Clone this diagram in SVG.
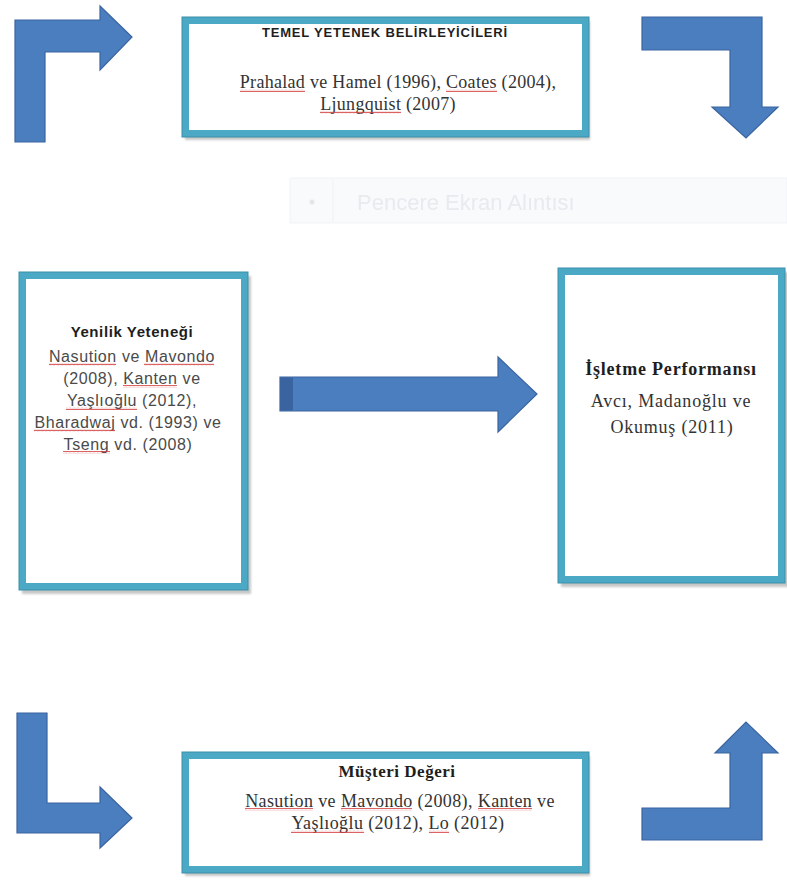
<svg xmlns="http://www.w3.org/2000/svg" width="787" height="882" viewBox="0 0 787 882">
  <defs>
    <style>
      .box { fill: #ffffff; stroke: #4BA9C6; stroke-width: 7; }
      .edge { fill: none; stroke: #3C8FA8; stroke-width: 1; }
      .shadow { fill: #9a9a9a; opacity: 0.55; }
      .arrow { fill: #4A7EBF; stroke: #3A64A0; stroke-width: 1.2; stroke-linejoin: miter; }
      .band { fill: #3A64A0; }
      .sans-title { font-family: "Liberation Sans", Arial, sans-serif; font-weight: bold; fill: #1e1e1e; text-anchor: middle; }
      .sans-body { font-family: "Liberation Sans", Arial, sans-serif; fill: #4a4a4a; text-anchor: middle; }
      .serif-title { font-family: "Liberation Serif", "Times New Roman", serif; font-weight: bold; fill: #1e1e1e; text-anchor: middle; }
      .serif-body { font-family: "Liberation Serif", "Times New Roman", serif; fill: #333333; text-anchor: middle; }
      .ghost { font-family: "Liberation Sans", Arial, sans-serif; fill: #e6e9ed; }
      .squig { fill: url(#squiggle); }
    </style>
    <filter id="soft" x="-5%" y="-5%" width="110%" height="110%">
      <feGaussianBlur stdDeviation="1.2"/>
    </filter>
    <pattern id="squiggle" width="4" height="3" patternUnits="userSpaceOnUse">
      <path d="M0,2.2 L1,0.8 L2,2.2 L3,0.8 L4,2.2" fill="none" stroke="#d23a3a" stroke-width="0.8"/>
    </pattern>
  </defs>

  <rect width="787" height="882" fill="#ffffff"/>

  <!-- faint pasted toolbar strip -->
  <g id="ghost-strip" opacity="0.9">
    <rect x="290" y="178" width="497" height="45" fill="#f8fafc" stroke="#eff2f6" stroke-width="1"/>
    <line x1="333" y1="179" x2="333" y2="222" stroke="#eef1f5" stroke-width="1"/>
    <circle cx="312" cy="202" r="2.5" fill="#e2e4e8"/>
    <text class="ghost" x="357" y="210" font-size="22">Pencere Ekran Alıntısı</text>
  </g>

  <!-- block arrows linking the boxes -->
  <g id="connectors">
    <path class="arrow" d="M15,142 L15,20 L100,20 L100,6 L132,37 L100,70 L100,52 L45,52 L45,142 Z"/>
    <path class="arrow" d="M642,17 L762,17 L762,107 L778,107 L746,138 L712,107 L730,107 L730,50 L642,50 Z"/>
    <path class="arrow" d="M280,377 L498,377 L498,357 L537,394 L498,432 L498,411 L280,411 Z"/>
    <rect class="band" x="280" y="377.5" width="13" height="33"/>
    <path class="arrow" d="M17,713 L47,713 L47,803 L100,803 L100,787 L132,818 L100,848 L100,833 L17,833 Z"/>
    <path class="arrow" d="M642,808 L730,808 L730,753 L715,753 L746,722 L778,753 L762,753 L762,840 L642,840 Z"/>
  </g>

  <!-- top: core capability determinants -->
  <g id="node-temel">
    <rect class="shadow" x="185" y="21" width="405" height="119" filter="url(#soft)"/>
    <rect class="box" x="185.5" y="20.5" width="400" height="113"/>
    <rect class="edge" x="182" y="17" width="407" height="120"/>
    <text class="sans-title" x="385" y="37" font-size="13" letter-spacing="0.8">TEMEL YETENEK BELİRLEYİCİLERİ</text>
    <text class="serif-body" x="398" y="88" font-size="18" letter-spacing="0.3">Prahalad ve Hamel (1996), Coates (2004),</text>
    <text class="serif-body" x="388" y="110" font-size="18" letter-spacing="0.3">Ljungquist (2007)</text>
    <rect class="squig" x="240" y="89" width="65" height="3"/>
    <rect class="squig" x="446" y="89" width="51" height="3"/>
    <rect class="squig" x="320" y="111" width="81" height="3"/>
  </g>

  <!-- left: innovation capability -->
  <g id="node-yenilik">
    <rect class="shadow" x="22" y="276" width="229" height="318" filter="url(#soft)"/>
    <rect class="box" x="22.5" y="275.5" width="222" height="311"/>
    <rect class="edge" x="19" y="272" width="229" height="318"/>
    <text class="sans-title" x="132" y="337" font-size="15" letter-spacing="0.6">Yenilik Yeteneği</text>
    <text class="sans-body" x="132" y="362" font-size="16" letter-spacing="0.6">Nasution ve Mavondo</text>
    <text class="sans-body" x="132" y="384" font-size="16" letter-spacing="0.6">(2008), Kanten ve</text>
    <text class="sans-body" x="132" y="406" font-size="16" letter-spacing="0.6">Yaşlıoğlu (2012),</text>
    <text class="sans-body" x="128" y="428" font-size="16" letter-spacing="0.6">Bharadwaj vd. (1993) ve</text>
    <text class="sans-body" x="128" y="450" font-size="16" letter-spacing="0.6">Tseng vd. (2008)</text>
    <rect class="squig" x="49" y="363" width="67" height="3"/>
    <rect class="squig" x="144" y="363" width="70" height="3"/>
    <rect class="squig" x="123" y="385" width="54" height="3"/>
    <rect class="squig" x="66" y="407" width="71" height="3"/>
    <rect class="squig" x="34" y="429" width="81" height="3"/>
    <rect class="squig" x="63" y="451" width="47" height="3"/>
  </g>

  <!-- right: firm performance -->
  <g id="node-isletme">
    <rect class="shadow" x="561" y="272" width="229" height="315" filter="url(#soft)"/>
    <rect class="box" x="561.5" y="271.5" width="220" height="308"/>
    <rect class="edge" x="558" y="268" width="227" height="315"/>
    <text class="serif-title" x="671" y="375" font-size="18" letter-spacing="0.8">İşletme Performansı</text>
    <text class="serif-body" x="671" y="407" font-size="18" letter-spacing="0.8">Avcı, Madanoğlu ve</text>
    <text class="serif-body" x="672" y="433" font-size="18" letter-spacing="0.8">Okumuş (2011)</text>
  </g>

  <!-- bottom: customer value -->
  <g id="node-musteri">
    <rect class="shadow" x="185" y="756" width="405" height="120" filter="url(#soft)"/>
    <rect class="box" x="185.5" y="755.5" width="400" height="114"/>
    <rect class="edge" x="182" y="752" width="407" height="121"/>
    <text class="serif-title" x="397" y="777" font-size="17" letter-spacing="0.5">Müşteri Değeri</text>
    <text class="serif-body" x="400" y="807" font-size="18" letter-spacing="0.4">Nasution ve Mavondo (2008), Kanten ve</text>
    <text class="serif-body" x="398" y="829" font-size="18" letter-spacing="0.4">Yaşlıoğlu (2012), Lo (2012)</text>
    <rect class="squig" x="245" y="808" width="68" height="3"/>
    <rect class="squig" x="341" y="808" width="71" height="3"/>
    <rect class="squig" x="478" y="808" width="54" height="3"/>
    <rect class="squig" x="291" y="830" width="73" height="3"/>
    <rect class="squig" x="429" y="830" width="20" height="3"/>
  </g>
</svg>
